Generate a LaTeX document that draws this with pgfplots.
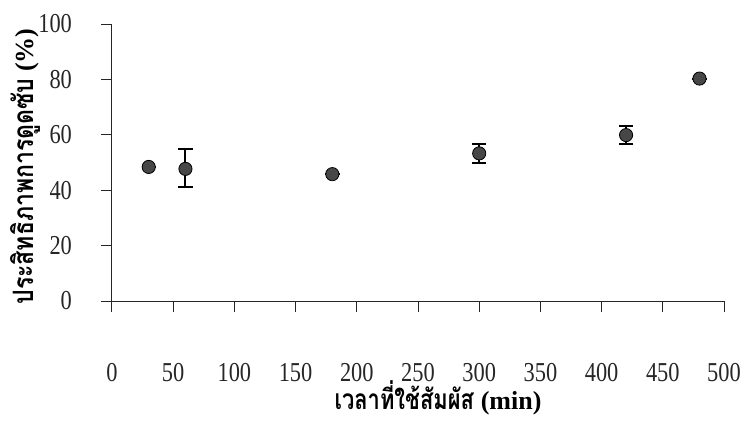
\documentclass[border=0pt]{standalone}
\usepackage{fontspec}
\usepackage{pgfplots}
\usepackage{pgfplotstable}
\pgfplotsset{compat=1.18}
\setmainfont{Liberation Serif}
\newfontfamily\thai[Script=Thai, FakeStretch=0.82, Scale=1.08]{Loma}
\newfontfamily\thaix[Script=Thai, FakeStretch=0.78, Scale=1.08]{Loma}

\pgfplotstableread{
x y ep em
30 48.4 0 0
60 47.7 7.2 6.5
180 45.8 0 0
300 53.3 3.4 3.5
420 59.9 3.3 3.2
480 80.3 0 0
}\datatable

\begin{document}
\fontsize{13}{15}\selectfont
\begin{tikzpicture}
\useasboundingbox (-56pt,-59.5pt) rectangle (316pt,150.5pt);
\begin{axis}[
  scale only axis,
  width=306pt, height=138.5pt,
  xmin=0, xmax=500, ymin=0, ymax=100,
  axis x line=bottom, axis y line=left,
  axis line style={-, line width=0.5pt, black!85},
  xtick={0,50,...,500}, ytick={0,20,...,100},
  tick align=outside,
  major tick length=5.5pt,
  tick style={line width=0.5pt, black!85},
  /pgf/number format/assume math mode=true,
  ticklabel style={font=\fontsize{11.2}{13}\selectfont, text=black!85},
  xticklabel={\scalebox{1}[1.22]{\pgfmathprintnumber{\tick}}},
  yticklabel={\scalebox{1}[1.22]{\pgfmathprintnumber{\tick}}},
  xticklabel style={yshift=-21pt},
  yticklabel style={xshift=-10pt},
  xlabel={{\thaix\bfseries เวลาที่ใช้สัมผัส} \textbf{(min)}},
  ylabel={{\thai\bfseries ประสิทธิภาพการดูดซับ} \textbf{(\%)}},
  xlabel style={font=\fontsize{13}{15}\selectfont, at={([xshift=10pt]axis description cs:0.5,0)}, anchor=north, yshift=-35.5pt},
  ylabel style={font=\fontsize{13}{15}\selectfont, at={([xshift=-43.5pt,yshift=-2pt]axis description cs:0,0.5)}, anchor=center},
  clip=false,
]
\addplot[only marks, mark=*, mark size=3.3pt,
  mark options={fill=black!72, draw=black, line width=0.4pt},
  error bars/.cd, y dir=both, y explicit,
  error bar style={line width=1pt, black},
  error mark options={rotate=90, mark size=3.6pt, line width=1pt, black}]
  table[x=x, y=y, y error plus=ep, y error minus=em] {\datatable};
\end{axis}
\end{tikzpicture}
\end{document}
